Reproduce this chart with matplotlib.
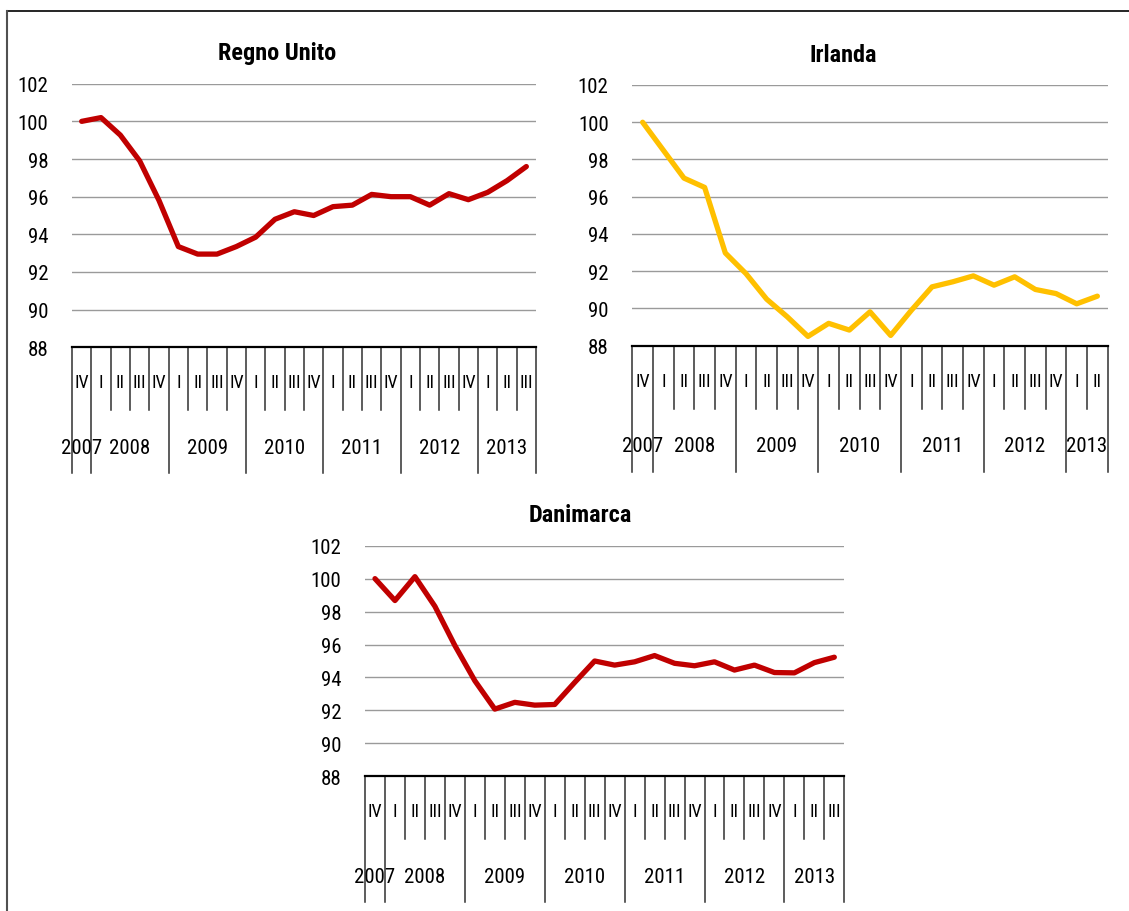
import matplotlib
matplotlib.use("Agg")
import matplotlib.pyplot as plt
from matplotlib.lines import Line2D
from matplotlib import font_manager as fm

# ---------------- data ----------------
uk_quarters = ["IV"] + ["I", "II", "III", "IV"] * 5 + ["I", "II", "III"]
uk_values = [100.0, 100.2, 99.27, 97.9, 95.8, 93.35, 92.95, 92.95, 93.35, 93.85,
             94.8, 95.2, 95.0, 95.47, 95.55, 96.12, 96.0, 96.0, 95.55, 96.16,
             95.84, 96.23, 96.85, 97.6]

ie_quarters = ["IV"] + ["I", "II", "III", "IV"] * 5 + ["I", "II"]
ie_values = [100.0, 98.5, 97.0, 96.5, 92.98, 91.87, 90.5, 89.55, 88.5, 89.2,
             88.84, 89.82, 88.55, 89.9, 91.16, 91.43, 91.75, 91.25, 91.7, 91.02,
             90.8, 90.25, 90.66]

dk_quarters = ["IV"] + ["I", "II", "III", "IV"] * 5 + ["I", "II", "III"]
dk_values = [100.0, 98.67, 100.12, 98.32, 95.94, 93.8, 92.08, 92.49, 92.32, 92.36,
             93.7, 95.0, 94.75, 94.95, 95.33, 94.86, 94.71, 94.95, 94.45, 94.75,
             94.3, 94.28, 94.9, 95.23]

years = ["2007", "2008", "2009", "2010", "2011", "2012", "2013"]
y_ticks = [88, 90, 92, 94, 96, 98, 100, 102]

# ---------------- font choice ----------------
FAMILY, STRETCH, SCALE = 'Liberation Sans', 'normal', 0.86
for fam, st in [('Liberation Sans Narrow', 'normal'), ('Arial Narrow', 'normal'),
                ('Roboto Condensed', 'normal'), ('Noto Sans', 'condensed'),
                ('Open Sans', 'condensed')]:
    try:
        path = fm.findfont(fm.FontProperties(family=fam, stretch=st), fallback_to_default=False)
        if 'Narrow' in path or 'Condensed' in path:
            FAMILY, STRETCH, SCALE = fam, st, 1.0
            break
    except Exception:
        pass

plt.rcParams['font.family'] = [FAMILY, 'DejaVu Sans']
plt.rcParams['font.stretch'] = STRETCH

W, H = 1129, 912
fig = plt.figure(figsize=(W / 100, H / 100), dpi=100)


def px_axes(left, top, right, bottom):
    return fig.add_axes([left / W, 1 - bottom / H, (right - left) / W, (bottom - top) / H])


def draw_chart(rect, title, title_xy, quarters, values, color):
    left, top, right, bottom = rect
    ax = px_axes(left, top, right, bottom)
    hpx = bottom - top
    n = len(quarters)
    xs = [i + 0.5 for i in range(n)]
    ax.set_xlim(0, n)
    ax.set_ylim(88, 102)
    ax.set_yticks(y_ticks)
    ax.set_yticklabels([str(v) for v in y_ticks], fontsize=15 * SCALE, fontstretch=STRETCH)
    ax.tick_params(axis='y', length=0, pad=17)
    ax.set_xticks([])
    for s in ['left', 'right', 'top']:
        ax.spines[s].set_visible(False)
    ax.spines['bottom'].set_color('black')
    ax.spines['bottom'].set_linewidth(1.6)
    ax.grid(axis='y', color='#9a9a9a', linewidth=1.0)
    ax.set_axisbelow(True)
    ax.plot(xs, values, color=color, linewidth=3.8, solid_joinstyle='round',
            solid_capstyle='round', zorder=3)

    tr = ax.get_xaxis_transform()
    f = lambda p: -p / hpx
    bounds = [0, 1, 5, 9, 13, 17, 21, n]
    for b in range(n + 1):
        depth = 126 if b in bounds else 63
        ax.plot([b, b], [0, f(depth)], transform=tr, color='#303030', lw=1.1, clip_on=False)
    for i, q in enumerate(quarters):
        ax.text(i + 0.5, f(35), q, transform=tr, ha='center', va='center',
                fontsize=13 * (1 if SCALE == 1 else 0.92), fontstretch=STRETCH)
    for k, yname in enumerate(years):
        c = (bounds[k] + bounds[k + 1]) / 2
        ax.text(c, f(100), yname, transform=tr, ha='center', va='center',
                fontsize=15 * SCALE, fontstretch=STRETCH)
    fig.text(title_xy[0] / W, 1 - title_xy[1] / H, title, ha='center', va='baseline',
             fontsize=17.5 * (1 if SCALE == 1 else 0.9), fontweight='bold', fontstretch=STRETCH)
    return ax


draw_chart((72, 84.7, 536, 348.3), "Regno Unito", (277.5, 60), uk_quarters, uk_values, '#C00000')
draw_chart((632.3, 86, 1107.7, 346.7), "Irlanda", (843, 62), ie_quarters, ie_values, '#FFC000')
draw_chart((365, 546.7, 844.3, 777.3), "Danimarca", (580, 521.5), dk_quarters, dk_values, '#C00000')

# outer border (top and left)
fig.add_artist(Line2D([7 / W, 1.0], [1 - 11.7 / H, 1 - 11.7 / H], color='black', lw=1.2))
fig.add_artist(Line2D([7 / W, 7 / W], [0, 1 - 11.7 / H], color='#505050', lw=1.5))

fig.savefig("out.png", dpi=100)
